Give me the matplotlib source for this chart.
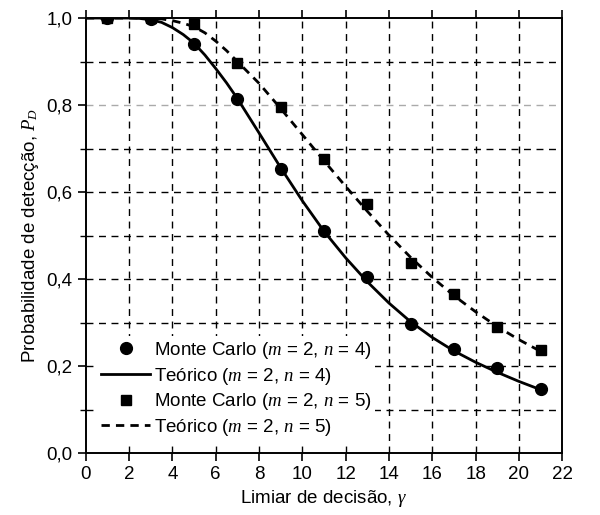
import matplotlib
matplotlib.use("Agg")
import matplotlib.pyplot as plt
from matplotlib.ticker import MultipleLocator, FuncFormatter

plt.rcParams['font.family'] = ['Liberation Sans', 'DejaVu Sans']
plt.rcParams['mathtext.fontset'] = 'custom'
plt.rcParams['mathtext.it'] = 'Liberation Serif:italic'
plt.rcParams['mathtext.rm'] = 'Liberation Serif'

# pontos de Monte Carlo
x_mc = [1, 3, 5, 7, 9, 11, 13, 15, 17, 19, 21]
pd_mc_n4 = [1.0, 0.997, 0.940, 0.814, 0.654, 0.511, 0.406, 0.296, 0.239, 0.195, 0.147]
pd_mc_n5 = [1.0, 1.0, 0.986, 0.897, 0.796, 0.677, 0.573, 0.438, 0.365, 0.289, 0.236]

# curvas teoricas
x_teo = [0, 1, 2, 2.5, 3, 3.5, 4, 4.5, 5, 5.5, 6, 6.5, 7, 8, 9, 10, 11, 12, 13, 14,
         15, 16, 17, 18, 19, 20, 21]
pd_teo_n4 = [1.0, 1.0, 1.0, 0.999, 0.996, 0.990, 0.978, 0.962, 0.942, 0.915, 0.884, 0.851,
             0.815, 0.736, 0.656, 0.580, 0.510, 0.449, 0.394, 0.345, 0.302, 0.266, 0.235,
             0.209, 0.186, 0.165, 0.146]
pd_teo_n5 = [1.0, 1.0, 1.0, 1.0, 1.0, 0.998, 0.994, 0.988, 0.980, 0.966, 0.947, 0.925,
             0.900, 0.850, 0.792, 0.732, 0.672, 0.613, 0.556, 0.501, 0.450, 0.404, 0.362,
             0.325, 0.291, 0.261, 0.234]

fig = plt.figure(figsize=(6.0, 5.15), dpi=100)
ax = fig.add_axes([0.143, 0.12, 0.794, 0.845])

ax.plot(x_mc, pd_mc_n4, 'o', color='black', markersize=8.5, label=r'Monte Carlo ($m$ = 2, $n$ = 4)', zorder=4)
ax.plot(x_teo, pd_teo_n4, '-', color='black', linewidth=2.0, label=r'Teórico ($m$ = 2, $n$ = 4)', zorder=3)
ax.plot(x_mc, pd_mc_n5, 's', color='black', markersize=7, label=r'Monte Carlo ($m$ = 2, $n$ = 5)', zorder=4)
ax.plot(x_teo, pd_teo_n5, '--', color='black', linewidth=2.0, dashes=(3, 2.2),
        label=r'Teórico ($m$ = 2, $n$ = 5)', zorder=3)

ax.set_xlim(0, 22)
ax.set_ylim(0, 1.0)
ax.xaxis.set_major_locator(MultipleLocator(2))
ax.yaxis.set_major_locator(MultipleLocator(0.2))
ax.yaxis.set_minor_locator(MultipleLocator(0.1))
ax.yaxis.set_major_formatter(FuncFormatter(lambda v, p: ('%.1f' % v).replace('.', ',')))

# grade
for xv in range(2, 22, 2):
    ax.axvline(xv, color='black', linestyle=(0, (5, 4)), linewidth=1.0, zorder=1)
for yv in [0.1, 0.2, 0.3, 0.4, 0.5, 0.6, 0.7, 0.9]:
    ax.axhline(yv, color='black', linestyle=(0, (5, 4)), linewidth=1.0, zorder=1)
ax.axhline(0.8, color='#aaaaaa', linestyle=(0, (5, 4)), linewidth=1.0, zorder=1)

ax.tick_params(axis='both', which='major', direction='out', length=6, width=1.2,
               labelsize=13.5, top=True, right=False)
ax.tick_params(axis='y', which='minor', direction='out', length=4, width=1.0)
for s in ax.spines.values():
    s.set_linewidth(1.4)

ax.set_xlabel(r'Limiar de decisão, $\gamma$', fontsize=13.5, labelpad=3)
ax.set_ylabel(r'Probabilidade de detecção, $P_D$', fontsize=13.5, labelpad=4)

leg = ax.legend(loc='lower left', bbox_to_anchor=(0.005, 0.005), fontsize=13.5, frameon=True,
                fancybox=False, edgecolor='none', framealpha=1.0, handlelength=2.6,
                handletextpad=0.2, borderpad=0.2, labelspacing=0.25)
leg.set_zorder(5)

fig.savefig('out.png', dpi=100)
